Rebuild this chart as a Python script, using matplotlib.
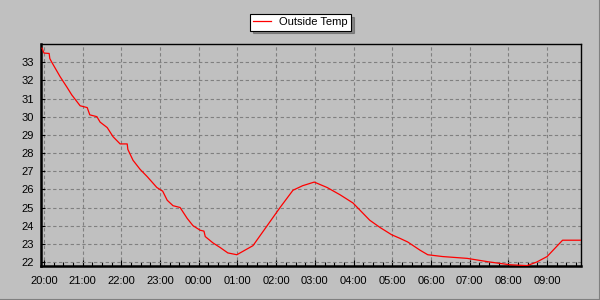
import matplotlib
matplotlib.use("Agg")
import matplotlib.pyplot as plt
from matplotlib.lines import Line2D
from matplotlib.ticker import FixedLocator, MultipleLocator, FuncFormatter

# ---- data ----
times = ["19:57", "20:00", "20:08", "20:09", "20:12", "20:25", "20:36", "20:43", "20:56",
         "21:07", "21:11", "21:22", "21:27", "21:38", "21:47", "21:58", "22:09", "22:10",
         "22:18", "22:29", "22:40", "22:55", "23:04", "23:11", "23:20", "23:31", "23:42",
         "23:51", "00:02", "00:08", "00:10", "00:22", "00:33", "00:45", "00:59", "01:24",
         "01:46", "02:06", "02:26", "02:41", "02:59", "03:19", "03:39", "03:59", "04:25",
         "04:41", "04:59", "05:12", "05:24", "05:43", "05:55", "06:18", "06:56", "07:31",
         "08:02", "08:29", "08:44", "09:00", "09:24", "09:54"]
temps = [33.77, 33.5, 33.48, 33.2, 33.0, 32.2, 31.6, 31.2, 30.6,
         30.5, 30.1, 30.0, 29.7, 29.4, 28.9, 28.5, 28.5, 28.2,
         27.6, 27.1, 26.7, 26.1, 25.9, 25.4, 25.1, 25.0, 24.4,
         24.0, 23.75, 23.7, 23.4, 23.05, 22.8, 22.5, 22.4, 22.9,
         24.0, 25.0, 25.95, 26.2, 26.4, 26.1, 25.7, 25.25, 24.3,
         23.9, 23.5, 23.3, 23.1, 22.65, 22.4, 22.3, 22.2, 22.0,
         21.85, 21.8, 22.0, 22.3, 23.2, 23.2]
hour_labels = ["20:00", "21:00", "22:00", "23:00", "00:00", "01:00", "02:00",
               "03:00", "04:00", "05:00", "06:00", "07:00", "08:00", "09:00"]
y_ticks = [22, 23, 24, 25, 26, 27, 28, 29, 30, 31, 32, 33]
series_name = "Outside Temp"


def to_hours(s):
    h, m = s.split(":")
    v = int(h) + int(m) / 60.0 - 20.0
    if v < -1:
        v += 24.0
    return v


xs = [to_hours(t) for t in times]
hour_pos = [to_hours(t) for t in hour_labels]

plt.rcParams["font.family"] = ["Liberation Sans", "DejaVu Sans"]
plt.rcParams["lines.scale_dashes"] = False

W, H = 600, 300
fig = plt.figure(figsize=(6, 3), dpi=100, facecolor="#c0c0c0")
L, R, T, B = 41, 581, 44, 266
ax = fig.add_axes([L / W, 1 - B / H, (R - L) / W, (B - T) / H])
ax.set_facecolor("#c0c0c0")

ax.plot(xs, temps, color="#ff0000", lw=0.9, label=series_name, zorder=3)

ax.set_xlim(-0.0775, 13.876)
ax.set_ylim(21.78, 34.0)

ax.xaxis.set_major_locator(FixedLocator(hour_pos))
ax.set_xticklabels(hour_labels)
ax.xaxis.set_minor_locator(MultipleLocator(0.25))
ax.yaxis.set_major_locator(FixedLocator(y_ticks))
ax.yaxis.set_major_formatter(FuncFormatter(lambda v, p: f"{int(round(v))}"))

grid_kw = dict(color="#808080", lw=0.8, linestyle=(0, (2.4, 1.8)))
ax.grid(True, which="major", **grid_kw)
ax.set_axisbelow(True)

ax.tick_params(axis="x", which="major", direction="in", length=4, width=0.8,
               pad=7.5, labelsize=8, colors="black")
ax.tick_params(axis="x", which="minor", direction="in", length=3, width=0.8)
ax.tick_params(axis="y", which="major", direction="in", length=3, width=0.8,
               pad=5, labelsize=8)

for side in ("left", "bottom"):
    ax.spines[side].set_linewidth(1.8)
for side in ("top", "right"):
    ax.spines[side].set_linewidth(1.0)
for s in ax.spines.values():
    s.set_color("black")

leg = fig.legend(handles=[Line2D([], [], color="#ff0000", lw=0.9)], labels=[series_name],
                 loc="upper left", bbox_to_anchor=(250 / W, 1 - 14 / H),
                 frameon=True, fancybox=False, shadow=True, fontsize=8,
                 handlelength=1.6, handletextpad=0.7, borderpad=0.3,
                 borderaxespad=0)
fr = leg.get_frame()
fr.set_facecolor("white")
fr.set_edgecolor("black")
fr.set_linewidth(0.8)

# window-like border at right and bottom
fig.add_artist(Line2D([0, 1], [1.5 / H, 1.5 / H], transform=fig.transFigure, color="#808080", lw=0.8))
fig.add_artist(Line2D([1 - 1.5 / W, 1 - 1.5 / W], [0, 1], transform=fig.transFigure, color="#808080", lw=0.8))

fig.savefig("out.png", dpi=100, facecolor=fig.get_facecolor())
